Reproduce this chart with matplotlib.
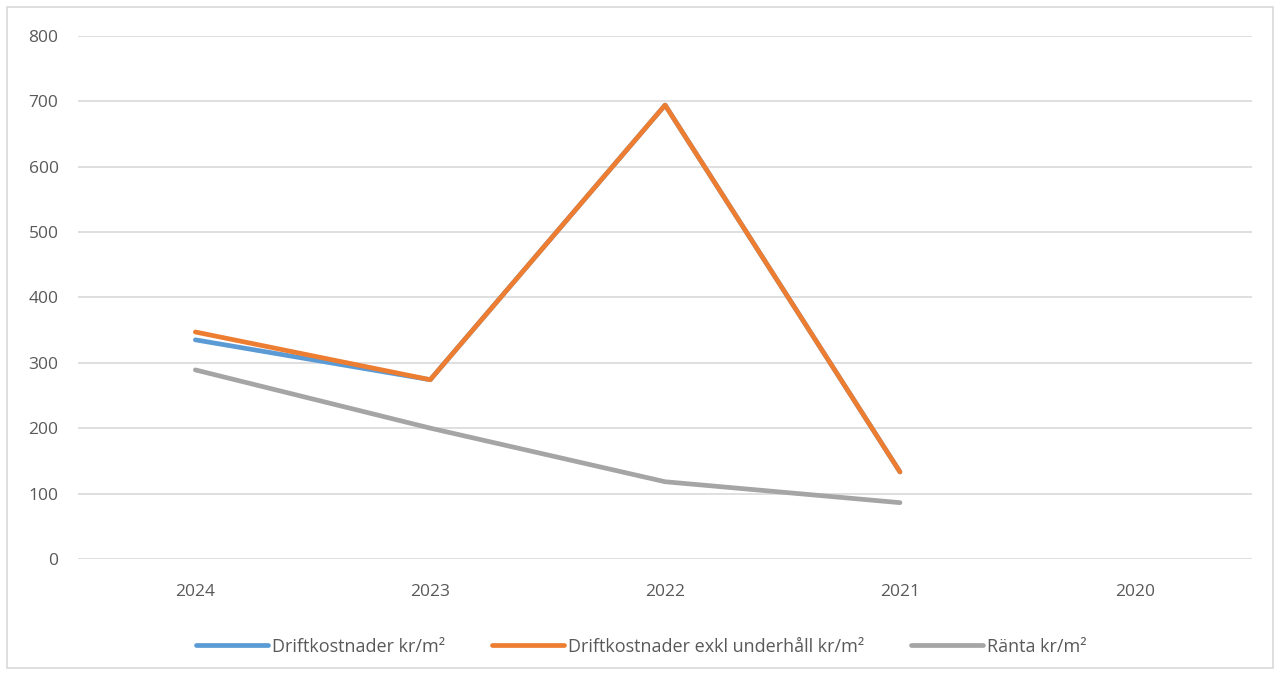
import numpy as np
import matplotlib.pyplot as plt
from matplotlib.patches import Rectangle

# Years (x axis runs newest to oldest) and values per series, kr/m²
years = ["2024", "2023", "2022", "2021", "2020"]
drift = [335, 274, 694, 133, np.nan]
drift_exkl = [347, 274, 694, 133, np.nan]
ranta = [289, 200, 118, 86, np.nan]

text_col = "#595959"
plt.rcParams["font.family"] = ["Open Sans", "DejaVu Sans"]

fig = plt.figure(figsize=(12.82, 6.75), dpi=100)
ax = fig.add_axes([0.0608, 0.172, 0.916, 0.775])

x = np.arange(len(years))
ax.plot(x, drift, color="#5B9BD5", lw=3.4, solid_capstyle="round", label="Driftkostnader kr/m²")
ax.plot(x, drift_exkl, color="#ED7D31", lw=3.4, solid_capstyle="round", label="Driftkostnader exkl underhåll kr/m²")
ax.plot(x, ranta, color="#A5A5A5", lw=3.4, solid_capstyle="round", label="Ränta kr/m²")

ax.set_xlim(-0.5, len(years) - 0.5)
ax.set_ylim(0, 800)
ax.set_yticks(range(0, 801, 100))
ax.set_xticks(x)
ax.set_xticklabels(years)
ax.grid(axis="y", color="#D9D9D9", lw=1.2)
ax.set_axisbelow(True)
for s in ax.spines.values():
    s.set_visible(False)
ax.tick_params(length=0, colors=text_col, labelsize=12.5)
ax.tick_params(axis="y", pad=14)
ax.tick_params(axis="x", pad=18)

leg = fig.legend(loc="center", bbox_to_anchor=(0.5, 0.042), ncol=3, frameon=False,
                 fontsize=13, handlelength=4.0, columnspacing=2.6, handletextpad=0.2)
for t in leg.get_texts():
    t.set_color(text_col)

# thin outer frame around the chart area
fig.patches.append(Rectangle((0.0055, 0.01), 0.9875, 0.98, transform=fig.transFigure,
                             fill=False, edgecolor="#D9D9D9", lw=1.2))

fig.savefig("out.png", dpi=100)
